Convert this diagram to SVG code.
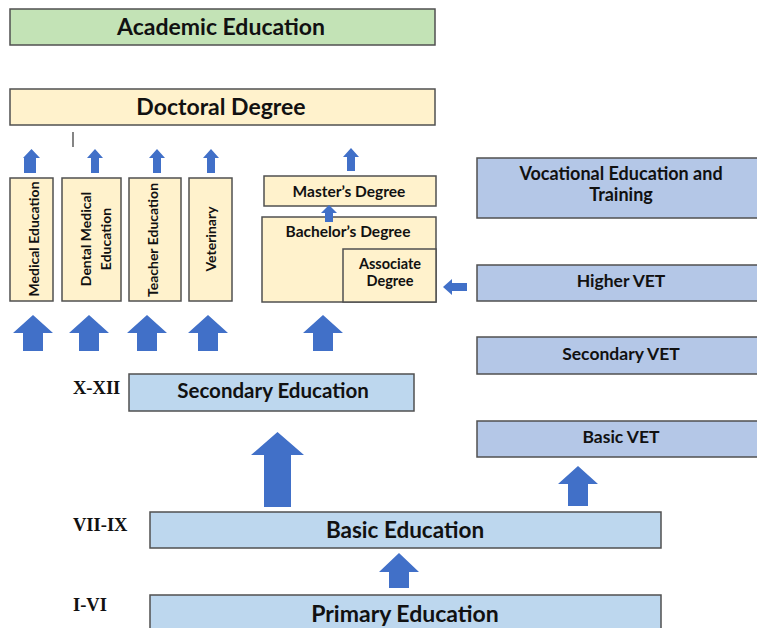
<svg xmlns="http://www.w3.org/2000/svg" width="757" height="628" viewBox="0 0 757 628">
<style>
.box{stroke:#505050;stroke-width:1.5}
.g{fill:#c3e3b6}
.y{fill:#fff2cc}
.b{fill:#bdd7ee}
.v{fill:#b4c7e7}
.t{font-family:Lato,"Open Sans",sans-serif;font-weight:700;fill:#111;text-anchor:middle}
.lab{font-family:"Liberation Serif","Times New Roman",serif;font-weight:700;fill:#111;font-size:18.5px}
.arr{fill:#4170c8}
</style>
<rect width="757" height="628" fill="#fff"/>
<g id="academic"><rect class="box g" x="10" y="9" width="425" height="36"/><text class="t" x="221" y="35" font-size="23">Academic Education</text></g>
<g id="doctoral"><rect class="box y" x="10" y="89" width="425" height="36"/><text class="t" x="221" y="115" font-size="23">Doctoral Degree</text></g>
<line x1="73" y1="132" x2="73" y2="147" stroke="#333" stroke-width="1.2"/>
<g id="medical"><rect class="box y" x="10" y="178" width="43" height="123"/><text class="t" font-size="14" transform="translate(38.5 239) rotate(-90)">Medical Education</text></g>
<g id="dental"><rect class="box y" x="62" y="178" width="59" height="123"/><text class="t" font-size="14" transform="translate(90.5 239) rotate(-90)">Dental Medical</text><text class="t" font-size="14" transform="translate(111 239) rotate(-90)">Education</text></g>
<g id="teacher"><rect class="box y" x="129" y="178" width="52" height="123"/><text class="t" font-size="14" transform="translate(157.5 240) rotate(-90)">Teacher Education</text></g>
<g id="veterinary"><rect class="box y" x="189" y="178" width="43" height="123"/><text class="t" font-size="14" transform="translate(216 239) rotate(-90)">Veterinary</text></g>
<g id="masters"><rect class="box y" x="264" y="176" width="172" height="30"/><text class="t" x="349" y="196.5" font-size="15.5">Master’s Degree</text></g>
<g id="bachelors"><rect class="box y" x="262" y="217" width="174" height="85"/><text class="t" x="348" y="236.5" font-size="15.5">Bachelor’s Degree</text></g>
<g id="associate"><rect class="box y" x="343" y="249" width="93" height="53"/><text class="t" x="390" y="269" font-size="14.5">Associate</text><text class="t" x="390" y="286" font-size="14.5">Degree</text></g>
<g id="vet"><rect class="box v" x="477" y="158" width="290" height="60"/><text class="t" x="621" y="180" font-size="18">Vocational Education and</text><text class="t" x="621" y="201" font-size="18">Training</text></g>
<g id="highervet"><rect class="box v" x="477" y="265" width="290" height="36"/><text class="t" x="621" y="287" font-size="17.5">Higher VET</text></g>
<g id="secondaryvet"><rect class="box v" x="477" y="337" width="290" height="37"/><text class="t" x="621" y="359.5" font-size="17.5">Secondary VET</text></g>
<g id="basicvet"><rect class="box v" x="477" y="421" width="290" height="36"/><text class="t" x="621" y="442.5" font-size="17.5">Basic VET</text></g>
<g id="secondary"><rect class="box b" x="129" y="374" width="285" height="37"/><text class="t" x="273" y="398" font-size="20.5">Secondary Education</text></g>
<g id="basic"><rect class="box b" x="150" y="512" width="511" height="36"/><text class="t" x="405" y="538" font-size="22.5">Basic Education</text></g>
<g id="primary"><rect class="box b" x="150" y="595" width="511" height="40"/><text class="t" x="405" y="622" font-size="23">Primary Education</text></g>
<g id="labels"><text class="lab" x="73" y="394">X-XII</text><text class="lab" x="73" y="531">VII-IX</text><text class="lab" x="73" y="611">I-VI</text></g>
<g id="connectors">
<path class="arr" d="M24 173V158H23L31.5 149L40 158H36V173Z"/>
<path class="arr" d="M91 173V158H87L95 149L103 158H99V173Z"/>
<path class="arr" d="M153 173V158H149L157 149L165 158H161V173Z"/>
<path class="arr" d="M207 173V158H203L211 149L219 158H215V173Z"/>
<path class="arr" d="M347 171V157H343L351 148L359 157H355V171Z"/>
<path class="arr" d="M325 222V213H321L329 205L337 213H333V222Z"/>
<path class="arr" d="M467 283H452V279L443 287L452 295V291H467Z"/>
<path class="arr" d="M23 351V333H13L33 315L53 333H43V351Z"/>
<path class="arr" d="M79 351V333H69L89 315L109 333H99V351Z"/>
<path class="arr" d="M137 351V333H127L147 315L167 333H157V351Z"/>
<path class="arr" d="M198 351V333H188L208 315L228 333H218V351Z"/>
<path class="arr" d="M313 351V333H303L323 315L343 333H333V351Z"/>
<path class="arr" d="M264 507V455H251L277.5 432L304 455H291V507Z"/>
<path class="arr" d="M568 506V484H558L578 466L598 484H588V506Z"/>
<path class="arr" d="M389 588V572H379L399 553L419 572H409V588Z"/>
</g>
</svg>
